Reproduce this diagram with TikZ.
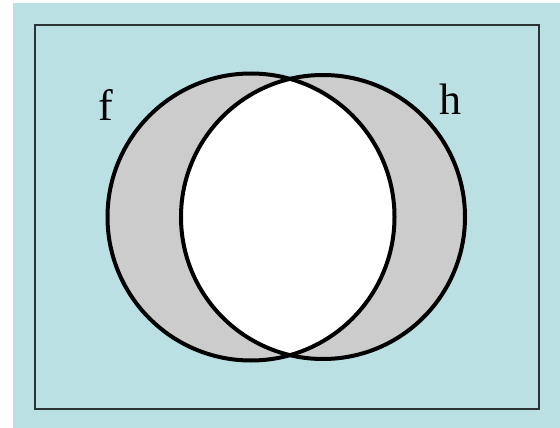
\documentclass[tikz,border=0pt]{standalone}
\usepackage{fontspec}
\setmainfont{Liberation Serif}
\definecolor{pool}{HTML}{BBE0E3}
\definecolor{setgray}{HTML}{CCCCCC}
\definecolor{frame}{HTML}{2A3435}
\begin{document}
\begin{tikzpicture}[x=1pt,y=-1pt,
   setline/.style={draw=black,line width=4pt},
   setlabel/.style={font=\fontsize{44}{44}\selectfont,inner sep=0pt}]
\useasboundingbox (0,0) rectangle (560,428);
% background and universe frame
\fill[white] (0,0) rectangle (560,428);
\fill[pool] (13,3) rectangle (560,428);
\draw[frame,line width=1.3pt] (35,25) rectangle (539,409);
% sets
\coordinate (cf) at (251,217);
\coordinate (ch) at (323,217);
\fill[setgray] (cf) circle (143.5);
\fill[setgray] (ch) circle (142);
\begin{scope}
  \clip (cf) circle (143.5);
  \fill[white] (ch) circle (142);
\end{scope}
\draw[setline] (cf) circle (143.5);
\draw[setline] (ch) circle (142);
% labels
\node[setlabel] (lf) at (106,105) {f};
\node[setlabel] (lh) at (450,99) {h};
\end{tikzpicture}
\end{document}
